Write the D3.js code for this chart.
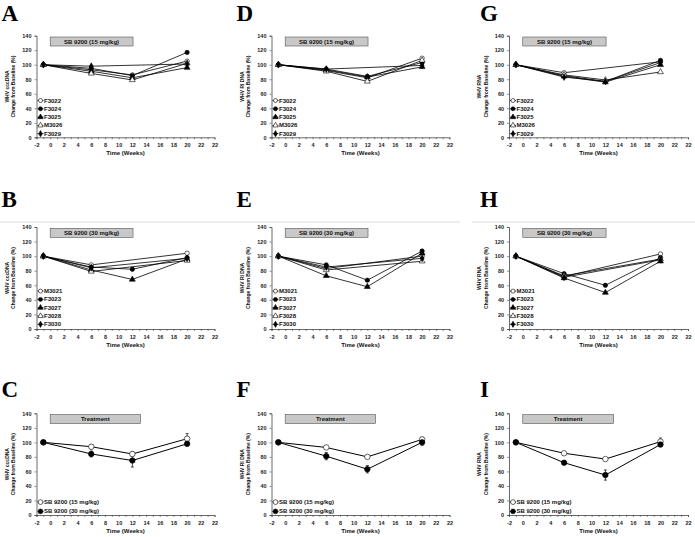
<!DOCTYPE html>
<html>
<head>
<meta charset="utf-8">
<script src="https://cdn.jsdelivr.net/npm/d3@7"></script>
<style>
  body { margin: 0; background: #fff; }
  text { font-family: "Liberation Sans", Arial, sans-serif; font-weight: bold; }
</style>
</head>
<body>
<svg width="695" height="537"></svg>
<script>
const weeks = [-1, 6, 12, 20];
const xTicks = d3.range(-2, 25, 2);
const xTickLabels = ["-2", "0", "2", "4", "6", "8", "10", "12", "14", "16", "18", "20", "22", "22"];
const yTicks = [0, 20, 40, 60, 80, 100, 120, 140];

const animals15 = ["F3022", "F3024", "F3025", "M3026", "F3029"];
const animals30 = ["M3021", "F3023", "F3027", "F3028", "F3030"];
const groups = ["SB 9200 (15 mg/kg)", "SB 9200 (30 mg/kg)"];

// individual animals, % of baseline (null = not measured)
const ccc15 = [[100, 93, 86, 105], [100, 95, 85, 117], [100, 91, 82, 96], [100, 88, 79, 102], [100, 98, null, 101]];
const ccc30 = [[100, 88, null, 104], [100, 85, 82, 98], [100, 81, 68, 96], [100, 79, null, 94], [100, 84, null, 97]];
const ri15 = [[100, 92, 82, 109], [100, 94, 84, 103], [100, 93, 83, 97], [100, 91, 77, 106], [100, 94, null, 99]];
const ri30 = [[100, 83, null, 100], [100, 88, 67, 107], [100, 73, 58, 104], [100, 81, null, 93], [100, 85, null, 97]];
const rna15 = [[100, 89, null, 104], [100, 85, 77, 106], [100, 84, 76, 100], [100, 86, 79, 90], [100, 83, 77, 103]];
const rna30 = [[100, 72, null, 103], [100, 76, 60, 98], [100, 70, 50, 93], [100, 73, null, 96], [100, 71, null, 95]];

// group means and errors
const cccMean = [[100, 94, 84, 105], [100, 84, 75, 98]];
const cccErr = [[0, 3, 3, 7], [0, 4, 9, 3]];
const riMean = [[100, 93, 80, 104], [100, 81, 63, 100]];
const riErr = [[0, 2, 2, 3], [0, 5, 5, 4]];
const rnaMean = [[100, 85, 77, 101], [100, 72, 55, 97]];
const rnaErr = [[0, 2, 2, 5], [0, 2, 7, 3]];

const yTitles = ["WHV cccDNA", "WHV RI DNA", "WHV RNA"];
const letters = [["A", "B", "C"], ["D", "E", "F"], ["G", "H", "I"]];

const colX = [36.5, 271.5, 509];
const colW = [178, 178, 179];
const rowTop = [35.7, 227, 413.3];
const rowBot = [137.3, 329, 515];

const markers = [
  { type: d3.symbolCircle, fill: false, size: 15 },
  { type: d3.symbolCircle, fill: true, size: 15 },
  { type: d3.symbolTriangle, fill: true, size: 15 },
  { type: d3.symbolTriangle, fill: false, size: 15 },
  { type: d3.symbolDiamond, fill: true, size: 13 }
];

const svg = d3.select('svg');

// light frame around the middle row
svg.append('line').attr('x1', 0).attr('x2', 460).attr('y1', 222).attr('y2', 222)
  .style('stroke', '#ddd').style('stroke-width', 1);
svg.append('line').attr('x1', 472).attr('x2', 695).attr('y1', 222).attr('y2', 222)
  .style('stroke', '#ddd').style('stroke-width', 1);

const panels = [
  [ccc15, animals15, groups[0], null],
  [ccc30, animals30, groups[1], null],
  [cccMean, groups, "Treatment", cccErr],
  [ri15, animals15, groups[0], null],
  [ri30, animals30, groups[1], null],
  [riMean, groups, "Treatment", riErr],
  [rna15, animals15, groups[0], null],
  [rna30, animals30, groups[1], null],
  [rnaMean, groups, "Treatment", rnaErr]
];

panels.forEach((p, k) => {
  const col = Math.floor(k / 3);
  const row = k % 3;
  drawPanel(col, row, p[0], p[1], p[2], p[3]);
});

function drawPanel(col, row, series, names, title, errors) {
  const x = d3.scaleLinear().domain([-2, 24]).range([colX[col], colX[col] + colW[col]]);
  const y = d3.scaleLinear().domain([0, 140]).range([rowBot[row], rowTop[row]]);
  const g = svg.append('g');

  // panel letter
  svg.append('text')
    .attr('x', col == 0 ? 1.5 : col == 1 ? 236.5 : 480)
    .attr('y', row == 0 ? 20.5 : row == 1 ? 207 : 397)
    .style('font-family', '"Liberation Serif", "Times New Roman", serif')
    .style('font-size', '23px')
    .text(letters[col][row]);

  // title box
  const bx1 = row == 2 ? 13.2 : 12.1;
  g.append('rect')
    .attr('x', x(0)).attr('y', y(138.2))
    .attr('width', x(bx1) - x(0)).attr('height', y(125.8) - y(138.2))
    .style('fill', '#c8c8c8').style('stroke', '#555').style('stroke-width', 0.6);
  g.append('text')
    .attr('x', (x(0) + x(bx1)) / 2).attr('y', (y(138.2) + y(125.8)) / 2)
    .attr('text-anchor', 'middle').attr('dominant-baseline', 'central')
    .style('font-size', '6px').style('fill', '#111')
    .text(title);

  // axes
  const xAxis = d3.axisBottom(x).tickValues(d3.range(-2, 25, 1)).tickSize(2)
    .tickFormat(d => (d % 2 == 0 ? xTickLabels[xTicks.indexOf(d)] : ''));
  const xa = g.append('g').attr('transform', `translate(0,${rowBot[row]})`).call(xAxis);
  const ya = g.append('g').attr('transform', `translate(${colX[col]},0)`)
    .call(d3.axisLeft(y).tickValues(yTicks).tickSize(2));
  [xa, ya].forEach(a => {
    a.select('.domain').style('stroke', '#444').style('stroke-width', 0.8);
    a.selectAll('.tick line').style('stroke', '#444').style('stroke-width', 0.6);
    a.selectAll('.tick text').style('font-size', '5.5px').style('fill', '#222')
      .style('font-family', '"Liberation Sans", Arial, sans-serif');
  });
  xa.selectAll('.tick text').attr('dy', '0.9em');

  // axis titles
  g.append('text')
    .attr('x', x(11)).attr('y', rowBot[row] + 18)
    .attr('text-anchor', 'middle')
    .style('font-size', '6px').style('fill', '#111')
    .text('Time (Weeks)');
  const yc = (rowTop[row] + rowBot[row]) / 2;
  [[yTitles[col], -30], ['Change from Baseline (%)', -23.5]].forEach(t => {
    g.append('text')
      .attr('transform', `translate(${colX[col] + t[1]},${yc}) rotate(-90)`)
      .attr('text-anchor', 'middle').attr('dominant-baseline', 'central')
      .style('font-size', '5px').style('fill', '#111')
      .text(t[0]);
  });

  const line = d3.line().x(d => x(d[0])).y(d => y(d[1]));

  // series lines, error bars, markers
  series.forEach((vals, i) => {
    const pts = weeks.map((w, j) => [w, vals[j], errors ? errors[i][j] : 0])
      .filter(d => d[1] != null);
    g.append('path').datum(pts).attr('d', line)
      .style('fill', 'none').style('stroke', '#000').style('stroke-width', errors ? 1 : 0.8);
    if (errors) {
      pts.filter(d => d[2] > 0).forEach(d => {
        g.append('line').attr('x1', x(d[0])).attr('x2', x(d[0]))
          .attr('y1', y(d[1] - d[2])).attr('y2', y(d[1] + d[2]))
          .style('stroke', '#000').style('stroke-width', 0.7);
        [d[1] - d[2], d[1] + d[2]].forEach(v => {
          g.append('line').attr('x1', x(d[0]) - 1.5).attr('x2', x(d[0]) + 1.5)
            .attr('y1', y(v)).attr('y2', y(v))
            .style('stroke', '#000').style('stroke-width', 0.7);
        });
      });
    }
  });
  series.forEach((vals, i) => {
    weeks.forEach((w, j) => {
      if (vals[j] == null) return;
      drawMarker(g, markers[i], x(w), y(vals[j]), errors ? 1.6 : 1);
    });
  });

  // legend
  const lx = colX[col] + 4;
  const n = names.length;
  const legY0 = row == 1 ? rowBot[row] - 4.7 : rowBot[row] - 3.6;
  names.forEach((name, i) => {
    const ly = legY0 - (n - 1 - i) * (errors ? 9.3 : 8.3);
    g.append('line').attr('x1', lx - 3).attr('x2', lx + 3).attr('y1', ly).attr('y2', ly)
      .style('stroke', '#000').style('stroke-width', 0.8);
    drawMarker(g, markers[i], lx, ly, errors ? 1.2 : 0.85);
    g.append('text').attr('x', lx + 3.5).attr('y', ly)
      .attr('dominant-baseline', 'central')
      .style('font-size', '6px').style('fill', '#111')
      .text(name);
  });
}

function drawMarker(g, m, cx, cy, scale) {
  g.append('path')
    .attr('d', d3.symbol().type(m.type).size(m.size * scale)())
    .attr('transform', `translate(${cx},${cy})`)
    .style('fill', m.fill ? '#000' : '#fff')
    .style('stroke', '#000').style('stroke-width', 0.6);
}
</script>
</body>
</html>
